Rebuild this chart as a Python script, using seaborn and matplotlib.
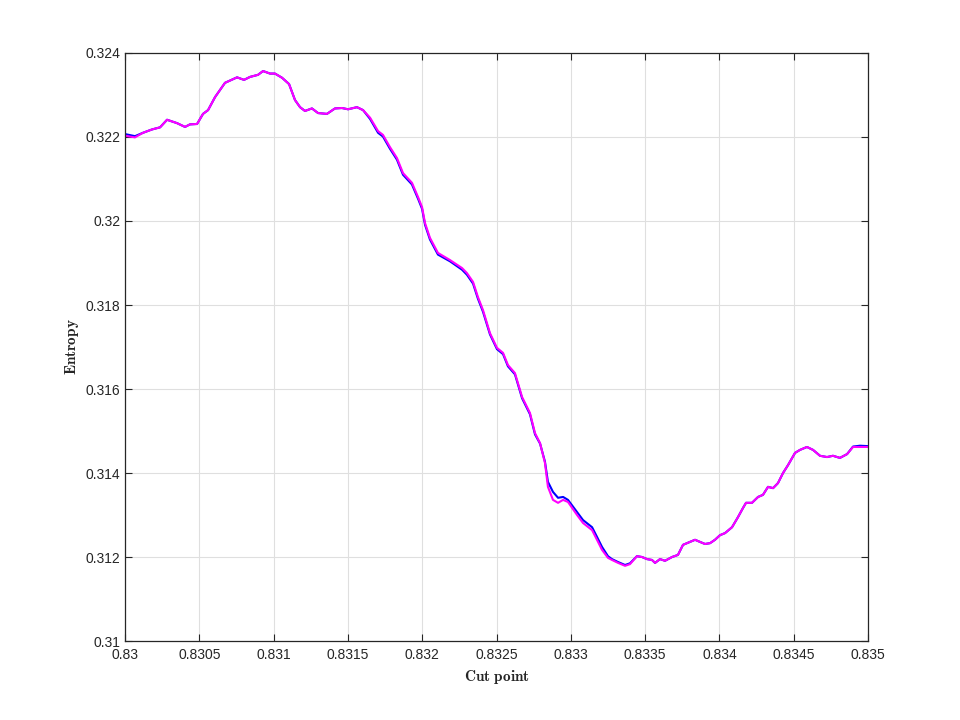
import seaborn as sns
import pandas as pd
import matplotlib.pyplot as plt
from matplotlib.ticker import FuncFormatter, MultipleLocator

# cut points (x) shared by both traces
cut = [0.830000, 0.830067, 0.830121, 0.830182, 0.830236, 0.830283, 0.830350, 0.830404,
       0.830437, 0.830485, 0.830525, 0.830559, 0.830606, 0.830673, 0.830754, 0.830801,
       0.830841, 0.830895, 0.830929, 0.830976, 0.831009, 0.831057, 0.831104, 0.831144,
       0.831178, 0.831211, 0.831258, 0.831299, 0.831359, 0.831413, 0.831460, 0.831501,
       0.831561, 0.831602, 0.831649, 0.831703, 0.831736, 0.831783, 0.831830, 0.831871,
       0.831931, 0.831972, 0.831999, 0.832019, 0.832052, 0.832106, 0.832187, 0.832268,
       0.832301, 0.832342, 0.832375, 0.832409, 0.832456, 0.832503, 0.832544, 0.832577,
       0.832624, 0.832672, 0.832725, 0.832759, 0.832793, 0.832826, 0.832846, 0.832880,
       0.832914, 0.832948, 0.832981, 0.833042, 0.833082, 0.833143, 0.833176, 0.833210,
       0.833250, 0.833277, 0.833318, 0.833365, 0.833398, 0.833445, 0.833479, 0.833513,
       0.833546, 0.833567, 0.833600, 0.833634, 0.833681, 0.833721, 0.833755, 0.833802,
       0.833836, 0.833869, 0.833903, 0.833937, 0.833970, 0.834004, 0.834038, 0.834085,
       0.834125, 0.834159, 0.834179, 0.834219, 0.834260, 0.834293, 0.834327, 0.834361,
       0.834394, 0.834428, 0.834462, 0.834509, 0.834542, 0.834589, 0.834630, 0.834677,
       0.834724, 0.834764, 0.834811, 0.834859, 0.834899, 0.834946, 0.835000]

entropy_m = [0.32203, 0.32199, 0.32210, 0.32218, 0.32223, 0.32241, 0.32233, 0.32224,
             0.32230, 0.32231, 0.32255, 0.32264, 0.32295, 0.32329, 0.32342, 0.32336,
             0.32343, 0.32348, 0.32357, 0.32351, 0.32351, 0.32341, 0.32326, 0.32288,
             0.32271, 0.32262, 0.32268, 0.32257, 0.32255, 0.32268, 0.32269, 0.32266,
             0.32271, 0.32264, 0.32246, 0.32214, 0.32205, 0.32176, 0.32150, 0.32114,
             0.32091, 0.32057, 0.32033, 0.31995, 0.31960, 0.31924, 0.31907, 0.31888,
             0.31876, 0.31855, 0.31819, 0.31788, 0.31733, 0.31698, 0.31686, 0.31657,
             0.31638, 0.31581, 0.31543, 0.31495, 0.31471, 0.31424, 0.31367, 0.31336,
             0.31329, 0.31336, 0.31331, 0.31300, 0.31281, 0.31264, 0.31241, 0.31217,
             0.31198, 0.31193, 0.31186, 0.31179, 0.31183, 0.31202, 0.31200, 0.31195,
             0.31193, 0.31186, 0.31195, 0.31191, 0.31200, 0.31205, 0.31229, 0.31236,
             0.31241, 0.31236, 0.31231, 0.31233, 0.31241, 0.31252, 0.31257, 0.31271,
             0.31295, 0.31317, 0.31329, 0.31329, 0.31343, 0.31348, 0.31367, 0.31364,
             0.31376, 0.31400, 0.31419, 0.31448, 0.31455, 0.31462, 0.31455, 0.31441,
             0.31438, 0.31441, 0.31436, 0.31445, 0.31462, 0.31462, 0.31462]

entropy_b = [0.32207, 0.32202, 0.32210, 0.32218, 0.32223, 0.32241, 0.32233, 0.32224,
             0.32230, 0.32231, 0.32255, 0.32264, 0.32295, 0.32329, 0.32342, 0.32336,
             0.32343, 0.32348, 0.32357, 0.32351, 0.32351, 0.32341, 0.32326, 0.32288,
             0.32271, 0.32262, 0.32268, 0.32257, 0.32255, 0.32268, 0.32269, 0.32266,
             0.32271, 0.32264, 0.32243, 0.32210, 0.32201, 0.32172, 0.32146, 0.32110,
             0.32087, 0.32053, 0.32029, 0.31991, 0.31956, 0.31920, 0.31904, 0.31884,
             0.31872, 0.31851, 0.31815, 0.31784, 0.31730, 0.31695, 0.31683, 0.31654,
             0.31635, 0.31578, 0.31540, 0.31492, 0.31470, 0.31427, 0.31379, 0.31355,
             0.31341, 0.31343, 0.31336, 0.31307, 0.31288, 0.31271, 0.31248, 0.31224,
             0.31202, 0.31195, 0.31188, 0.31181, 0.31185, 0.31202, 0.31200, 0.31195,
             0.31193, 0.31186, 0.31195, 0.31191, 0.31200, 0.31205, 0.31229, 0.31236,
             0.31241, 0.31236, 0.31231, 0.31233, 0.31241, 0.31252, 0.31257, 0.31271,
             0.31295, 0.31317, 0.31329, 0.31329, 0.31343, 0.31348, 0.31367, 0.31364,
             0.31376, 0.31400, 0.31419, 0.31448, 0.31455, 0.31462, 0.31455, 0.31441,
             0.31438, 0.31441, 0.31436, 0.31445, 0.31463, 0.31465, 0.31464]

sns.set_style('white')
plt.rcParams['font.family'] = ['Liberation Sans', 'DejaVu Sans']
plt.rcParams['mathtext.fontset'] = 'cm'

fig = plt.figure(figsize=(9.6, 7.2), dpi=100)
ax = fig.add_axes([0.1302, 0.1097, 0.7740, 0.8167])

sns.lineplot(x=cut, y=entropy_b, color='#0000ff', lw=1.5, ax=ax, sort=False)
sns.lineplot(x=cut, y=entropy_m, color='#ff00ff', lw=1.5, ax=ax, sort=False)

ax.set_xlim(0.83, 0.835)
ax.set_ylim(0.31, 0.324)
ax.xaxis.set_major_locator(MultipleLocator(0.0005))
ax.yaxis.set_major_locator(MultipleLocator(0.002))
fmt = FuncFormatter(lambda v, p: '%g' % round(v, 6))
ax.xaxis.set_major_formatter(fmt)
ax.yaxis.set_major_formatter(fmt)

ax.grid(True, color='#dfdfdf', lw=0.8)
ax.set_axisbelow(True)
for s in ax.spines.values():
    s.set_visible(True)
    s.set_color('#262626')
    s.set_linewidth(0.9)
ax.tick_params(direction='in', length=5, width=0.8, color='#262626',
               labelsize=10, labelcolor='#262626', top=True, right=True,
               bottom=True, left=True)
ax.tick_params(axis='x', pad=5)

ax.set_xlabel(r'$\mathbf{Cut\ point}$', fontsize=11, labelpad=4)
ax.set_ylabel(r'$\mathbf{Entropy}$', fontsize=11, labelpad=3)

plt.savefig('out.png', dpi=100)
